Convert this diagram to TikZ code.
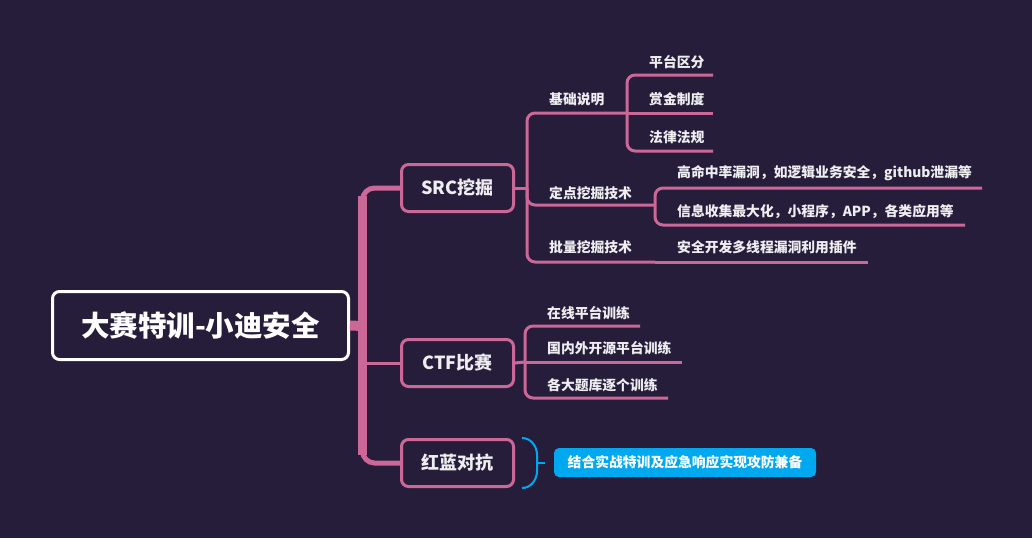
\documentclass[tikz,border=0pt]{standalone}
\usepackage{fontspec}
\setmainfont{Noto Sans CJK SC}
\definecolor{bg}{RGB}{38,29,59}
\definecolor{pk}{RGB}{204,104,152}
\definecolor{bl}{RGB}{0,168,240}
\definecolor{tx}{RGB}{238,238,240}
\tikzset{
  rootbox/.style={draw=white, line width=3pt, rounded corners=7pt, fill=bg, text=white,
    minimum width=296pt, minimum height=68pt, inner sep=0pt, font=\bfseries\fontsize{28.5}{28.5}\selectfont},
  topicbox/.style={draw=pk, line width=3pt, rounded corners=7pt, fill=bg, text=tx,
    minimum width=112pt, minimum height=47pt, inner sep=0pt, font=\bfseries\fontsize{18}{18}\selectfont},
  lbl/.style={text=tx, anchor=west, inner sep=0pt, font=\bfseries\fontsize{13.8}{13.8}\selectfont},
  br/.style={draw=pk, line width=3pt, rounded corners=8pt},
  bluebox/.style={fill=bl, rounded corners=5pt, text=white, minimum width=262pt, minimum height=29pt,
    inner sep=0pt, font=\bfseries\fontsize{13.8}{13.8}\selectfont},
}
\begin{document}
\begin{tikzpicture}[x=1pt,y=-1pt]
\fill[bg] (0,0) rectangle (1032,538);
\useasboundingbox (0,0) rectangle (1032,538);

% root and topics
\node[rootbox] (root) at (200.5,325.5) {大赛特训-小迪安全};
\node[topicbox] (src) at (457.5,188) {SRC挖掘};
\node[topicbox] (ctf) at (457.5,363) {CTF比赛};
\node[topicbox] (hl) at (457.5,463) {红蓝对抗};

% trunk
\coordinate (tk) at (362.5,326);
\draw[pk, line width=10pt] (root.east) -- (tk);
\draw[pk, line width=5pt, rounded corners=12pt] (src.west) -- (362.5,188) -- (362.5,463) -- (hl.west);
\draw[pk, line width=9pt] (362.5,196) -- (362.5,455);
\draw[pk, line width=3pt] (tk) |- (ctf.west);

% SRC branch
\coordinate (s0) at (527,188);
\draw[br] (src.east) -- (s0);
\node[lbl] (jc) at (549,99) {基础说明};
\node[lbl] (dd) at (549,193) {定点挖掘技术};
\node[lbl] (pl) at (549,247) {批量挖掘技术};
\coordinate (jce) at (627,113);
\coordinate (dde) at (655,205);
\coordinate (ple) at (655,262);
\draw[br] (s0) |- (jce);
\draw[br] (s0) |- (dde);
\draw[br] (s0) |- (ple);

\node[lbl] (p1) at (649,62) {平台区分};
\node[lbl] (p2) at (649,99) {赏金制度};
\node[lbl] (p3) at (649,137) {法律法规};
\coordinate (p1e) at (713,75);
\coordinate (p2e) at (713,113);
\coordinate (p3e) at (713,151);
\draw[br] (jce) |- (p1e);
\draw[br] (jce) -- (p2e);
\draw[br] (jce) |- (p3e);

\node[lbl] (d1) at (677,173) {高命中率漏洞，如逻辑业务安全，github泄漏等};
\node[lbl] (d2) at (677,212) {信息收集最大化，小程序，APP，各类应用等};
\coordinate (d1e) at (982,188);
\coordinate (d2e) at (965,225);
\draw[br] (dde) |- (d1e);
\draw[br] (dde) |- (d2e);

\node[lbl] (b1) at (677,247) {安全开发多线程漏洞利用插件};
\coordinate (b1e) at (868,262);
\draw[br] (ple) -- (b1e);

% CTF branch
\coordinate (c0) at (525,362);
\draw[br] (ctf.east) -- (c0);
\node[lbl] (c1) at (547,313) {在线平台训练};
\node[lbl] (c2) at (547,348) {国内外开源平台训练};
\node[lbl] (c3) at (547,385) {各大题库逐个训练};
\coordinate (c1e) at (640,326);
\coordinate (c2e) at (682,362);
\coordinate (c3e) at (668,398);
\draw[br] (c0) |- (c1e);
\draw[br] (c0) -- (c2e);
\draw[br] (c0) |- (c3e);

% red-blue
\node[bluebox] (sum) at (685,462.5) {结合实战特训及应急响应实现攻防兼备};
\coordinate (bt) at (522,438);
\coordinate (bb) at (522,488);
\coordinate (bm) at (537,463);
\draw[bl, line width=2pt] (bt) to[out=0,in=90] (537,455) -- (537,471) to[out=-90,in=0] (bb);
\draw[bl, line width=2pt] (bm) -- (545,463);
\end{tikzpicture}
\end{document}
